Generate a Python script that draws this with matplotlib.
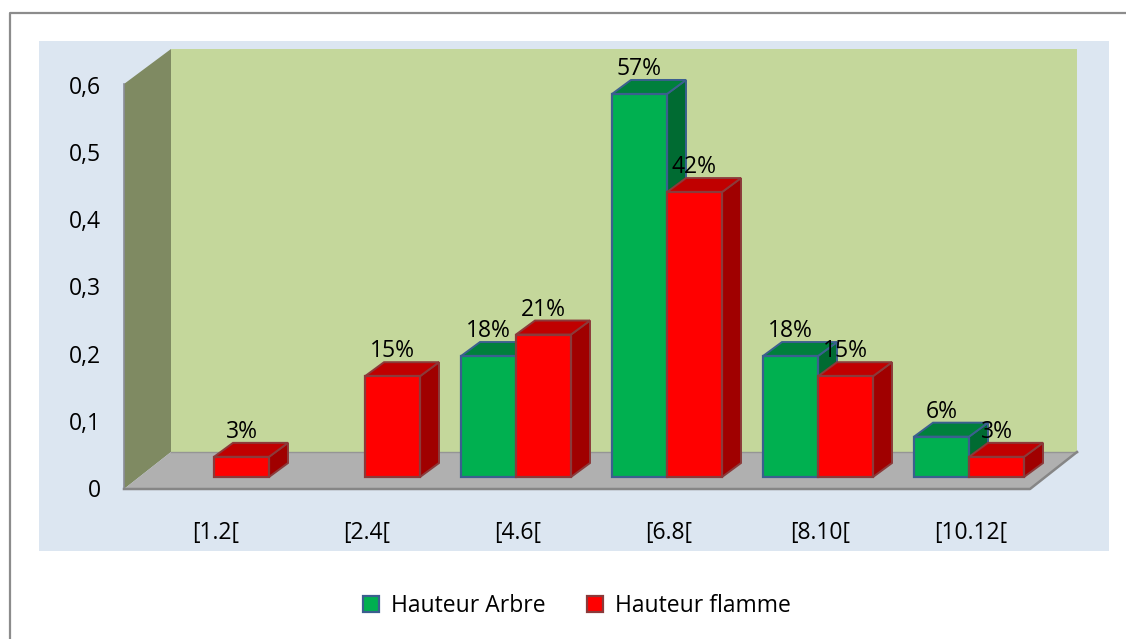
import matplotlib
matplotlib.use('Agg')
import matplotlib.pyplot as plt
from matplotlib.lines import Line2D
from matplotlib.patches import Patch, Polygon

plt.rcParams['font.family'] = ['Open Sans', 'DejaVu Sans']

categories = ['[1.2[', '[2.4[', '[4.6[', '[6.8[', '[8.10[', '[10.12[']
hauteur_arbre = [0, 0, 0.18, 0.57, 0.18, 0.06]
hauteur_flamme = [0.03, 0.15, 0.212, 0.424, 0.15, 0.03]
labels_arbre = ['', '', '18%', '57%', '18%', '6%']
labels_flamme = ['3%', '15%', '21%', '42%', '15%', '3%']
y_ticks = [0, 0.1, 0.2, 0.3, 0.4, 0.5, 0.6]
y_tick_labels = ['0', '0,1', '0,2', '0,3', '0,4', '0,5', '0,6']

W, H = 1126, 639
FS = 16.5
# echelle : pixels par categorie et par unite de valeur
sx, sy = 151.0, 672.0
x0_px, y0_px = 214.0, 477.0

fig = plt.figure(figsize=(W / 100, H / 100), dpi=100, facecolor='white')
ax = fig.add_axes([0, 0, 1, 1])
ax.set_xlim(-x0_px / sx, (W - x0_px) / sx)
ax.set_ylim((y0_px - H) / sy, y0_px / sy)
ax.axis('off')


def X(px):
    return (px - x0_px) / sx


def Y(px):
    return (y0_px - px) / sy


def poly(points, color, edge='none', lw=0, z=1):
    pts = [(X(a), Y(b)) for a, b in points]
    ax.add_patch(Polygon(pts, closed=True, facecolor=color, edgecolor=edge, linewidth=lw, zorder=z))


# cadre exterieur (gauche et haut seulement)
fig.add_artist(Line2D([9.5 / W, 9.5 / W, 1], [0, 1 - 12.5 / H, 1 - 12.5 / H], color='#8c8c8c', lw=1.6))

# fond du graphique
poly([(39, 41), (1109, 41), (1109, 551), (39, 551)], '#dce6f1')

# murs et sol
poly([(171, 49), (1077, 49), (1077, 452), (171, 452)], '#c4d79b')
poly([(124, 84), (171, 49), (171, 452), (124, 489)], '#7f8a62')
poly([(124, 489), (171, 452), (1077, 452), (1030, 489)], '#b0b0b0')
ax.plot([X(171), X(1077)], [Y(452), Y(452)], color='#959595', lw=1, zorder=1.5)
ax.plot([X(124), X(124)], [Y(84), Y(489)], color='#8a8d98', lw=1.2, zorder=1.5)
ax.plot([X(124), X(1030), X(1077)], [Y(489), Y(489), Y(452)], color='#868686', lw=1.8, zorder=1.5)


def bar3d(left, value, front, top, side, edge, z):
    w = 55 / sx
    dx = 19 / sx
    dy = 14 / sy
    right = left + w
    ax.add_patch(Polygon([(right, 0), (right + dx, dy), (right + dx, value + dy), (right, value)],
                         facecolor=side, edgecolor=edge, linewidth=1.4, zorder=z))
    ax.add_patch(Polygon([(left, value), (left + dx, value + dy), (right + dx, value + dy), (right, value)],
                         facecolor=top, edgecolor=edge, linewidth=1.4, zorder=z))
    ax.add_patch(Polygon([(left, 0), (right, 0), (right, value), (left, value)],
                         facecolor=front, edgecolor=edge, linewidth=1.6, zorder=z))


bar_w = 55 / sx
for i in range(len(categories)):
    if hauteur_arbre[i] > 0:
        bar3d(i - bar_w, hauteur_arbre[i], '#00b050', '#00803c', '#006b32', '#3b5f8f', 2 + i * 0.1)
        ax.text(i - bar_w / 2, hauteur_arbre[i] + 25 / sy, labels_arbre[i], ha='center', va='center',
                fontsize=FS, color='black', zorder=5)
    if hauteur_flamme[i] > 0:
        bar3d(i, hauteur_flamme[i], '#ff0000', '#c00000', '#a00000', '#8b3a3a', 2.05 + i * 0.1)
        ax.text(i + bar_w / 2, hauteur_flamme[i] + 25 / sy, labels_flamme[i], ha='center', va='center',
                fontsize=FS, color='black', zorder=5)

# graduations
for v, lab in zip(y_ticks, y_tick_labels):
    ax.text(X(101), v + Y(491), lab, ha='right', va='center', fontsize=FS, color='black')

for i, c in enumerate(categories):
    ax.text(i + 2 / sx, Y(533), c, ha='center', va='center', fontsize=FS, color='black')

# legende
handles = [Patch(facecolor='#00b050', edgecolor='#3b5f8f', linewidth=1.6, label='Hauteur Arbre'),
           Patch(facecolor='#ff0000', edgecolor='#8b3a3a', linewidth=1.6, label='Hauteur flamme')]
ax.legend(handles=handles, ncol=2, frameon=False, loc='center',
          bbox_to_anchor=(577 / W, 1 - 606 / H), fontsize=FS,
          handlelength=0.7, handleheight=0.7, handletextpad=0.52, columnspacing=1.79)

fig.savefig('out.png', dpi=100)
